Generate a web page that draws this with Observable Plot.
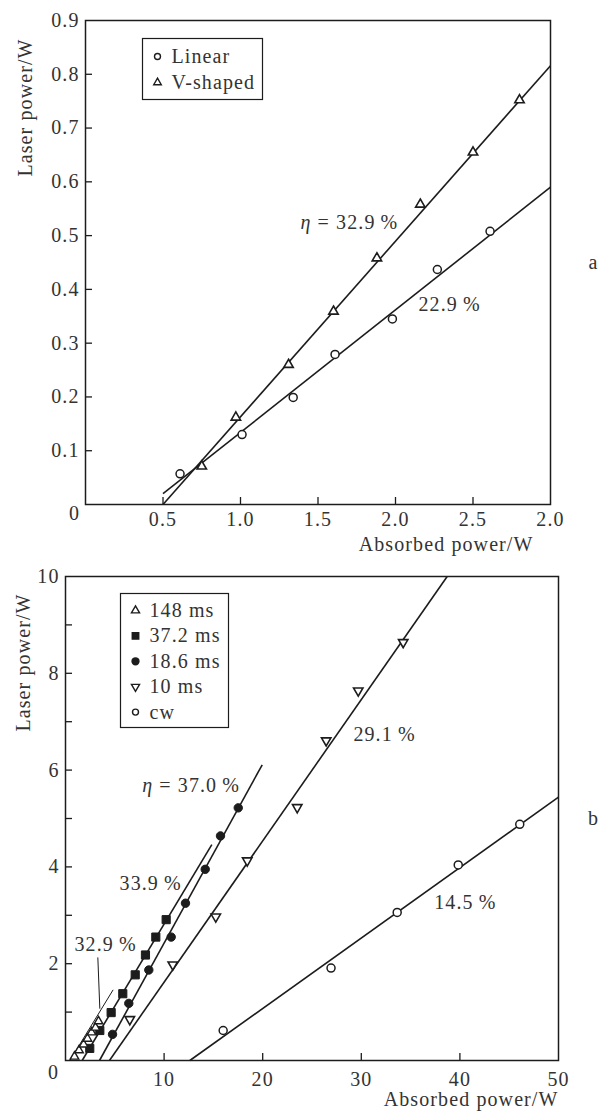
<!DOCTYPE html>
<html><head><meta charset="utf-8">
<script src="https://cdn.jsdelivr.net/npm/d3@7"></script>
<script src="https://cdn.jsdelivr.net/npm/@observablehq/plot@0.6"></script>
<style>
body{margin:0;background:#fff;}
#chart{width:599px;}
#chart svg{display:block;}
</style></head><body><div id="chart"></div>
<script>
// ---------- Panel a data ----------
const aLinearX = [0.61, 1.01, 1.34, 1.61, 1.98, 2.27, 2.61];
const aLinearY = [0.057, 0.130, 0.199, 0.279, 0.345, 0.437, 0.508];
const aVX = [0.75, 0.97, 1.31, 1.60, 1.88, 2.16, 2.50, 2.80];
const aVY = [0.071, 0.162, 0.260, 0.359, 0.458, 0.558, 0.655, 0.752];
// fitted lines: [x1, y1, x2, y2]
const aFits = [[0.5, 0.020, 3.0, 0.590], [0.5, 0.0, 3.0, 0.816]];
const aXTicks = [0.5, 1.0, 1.5, 2.0, 2.5, 3.0];
const aXTickLabels = ["0.5", "1.0", "1.5", "2.0", "2.5", "2.0"];
const aYTicks = [0.1, 0.2, 0.3, 0.4, 0.5, 0.6, 0.7, 0.8, 0.9];
const aYTickLabels = ["0.1", "0.2", "0.3", "0.4", "0.5", "0.6", "0.7", "0.8", "0.9"];
const aNoteText = ["η = 32.9\u2009%", "22.9\u2009%"];
const aNoteX = [1.387, 2.148];
const aNoteY = [0.524, 0.372];
const aLegend = ["Linear", "V-shaped"];

// ---------- Panel b data ----------
const b148X = [0.91, 1.37, 1.83, 2.23, 2.64, 3.04, 3.35];
const b148Y = [0.08, 0.21, 0.33, 0.45, 0.58, 0.68, 0.81];
const b372X = [2.46, 3.48, 4.63, 5.81, 7.07, 8.11, 9.16, 10.21];
const b372Y = [0.25, 0.62, 0.99, 1.38, 1.77, 2.18, 2.55, 2.91];
const b186X = [4.77, 6.42, 8.45, 10.72, 12.17, 14.17, 15.72, 17.52];
const b186Y = [0.54, 1.18, 1.87, 2.55, 3.25, 3.95, 4.64, 5.22];
const b10X = [6.52, 10.88, 15.24, 18.43, 23.5, 26.44, 29.69, 34.25];
const b10Y = [0.85, 1.98, 2.97, 4.13, 5.23, 6.61, 7.64, 8.64];
const bCwX = [15.99, 26.93, 33.64, 39.83, 46.07];
const bCwY = [0.62, 1.91, 3.06, 4.04, 4.88];
// fitted lines [x1, y1, x2, y2]
const bFits = [[1.69, 0, 14.84, 4.46], [3.45, 0, 19.95, 6.11], [4.46, 0, 38.71, 10], [12.61, 0, 50, 5.44]];
const bFitThin = [[0.45, 0, 4.83, 1.46], [3.28, 2.13, 3.48, 1.07]]; // 148 ms fit + leader line
const bXTicks = [10, 20, 30, 40, 50];
const bXTickLabels = ["10", "20", "30", "40", "50"];
const bYTicks = [1, 2, 3, 4, 5, 6, 7, 8, 9];
const bYLabelTicks = [2, 4, 6, 8, 10];
const bNoteText = ["η = 37.0\u2009%", "33.9\u2009%", "32.9\u2009%", "29.1\u2009%", "14.5\u2009%"];
const bNoteX = [7.78, 5.48, 0.91, 29.2, 37.4];
const bNoteY = [5.68, 3.66, 2.40, 6.74, 3.26];
const bLegend = ["148 ms", "37.2 ms", "18.6 ms", "10 ms", "cw"];

// ---------- helpers ----------
const FONT = "'Liberation Serif','Times New Roman',serif";
const INK = "#1c1c1c", TXT = "#333";
const pts = (xs, ys) => xs.map((x, i) => ({x, y: ys[i]}));
const segs = (arr) => arr.map(([x1, y1, x2, y2]) => ({x1, y1, x2, y2}));
const notes = (t, xs, ys) => t.map((s, i) => ({text: s, x: xs[i], y: ys[i]}));
const style = {fontFamily: FONT, fontSize: "20px", color: TXT, background: "white", letterSpacing: "1.1px"};

function legendMarks(entries, box, sym, spacing, y0) {
  const m = [Plot.frame({...box, fill: "white", stroke: INK, strokeWidth: 1.2})];
  entries.forEach((label, i) => {
    m.push(Plot.dot([label], {frameAnchor: "top-left", dx: box.insetLeft + 15, dy: y0 + i * spacing, ...sym[i]}));
    m.push(Plot.text([label], {frameAnchor: "top-left", dx: box.insetLeft + 29, dy: y0 + i * spacing, text: d => d, textAnchor: "start", lineAnchor: "middle", fill: TXT}));
  });
  return m;
}

// ---------- Panel a ----------
const plotA = Plot.plot({
  width: 599, height: 560, marginLeft: 85, marginRight: 49, marginTop: 20, marginBottom: 56,
  style,
  x: {domain: [0, 3], label: null},
  y: {domain: [0, 0.9], label: null},
  marks: [
    Plot.axisX({ticks: aXTicks.slice(0, -1), tickSize: -7, fill: "none", stroke: INK, strokeWidth: 1.3, label: null}),
    Plot.axisX({ticks: aXTicks, tickSize: 0, tickPadding: 7, stroke: "none", fill: TXT, tickFormat: d => aXTickLabels[aXTicks.indexOf(d)], label: null}),
    Plot.axisY({ticks: aYTicks.slice(0, -1), tickSize: -7, fill: "none", stroke: INK, strokeWidth: 1.3, label: null}),
    Plot.axisY({ticks: aYTicks, tickSize: 0, tickPadding: 6, stroke: "none", fill: TXT, tickFormat: d => aYTickLabels[aYTicks.indexOf(d)], label: null}),
    Plot.text(["0"], {frameAnchor: "bottom-left", dx: -11, dy: 15, textAnchor: "middle", text: d => d, fill: TXT}),
    Plot.link(segs(aFits), {x1: "x1", y1: "y1", x2: "x2", y2: "y2", stroke: INK, strokeWidth: 1.6}),
    Plot.dot(pts(aLinearX, aLinearY), {x: "x", y: "y", r: 4, symbol: "circle", fill: "white", stroke: INK, strokeWidth: 1.5}),
    Plot.dot(pts(aVX, aVY), {x: "x", y: "y", r: 3.5, symbol: "triangle", fill: "white", stroke: INK, strokeWidth: 1.6}),
    Plot.text(notes(aNoteText, aNoteX, aNoteY), {x: "x", y: "y", text: "text", textAnchor: "start", fill: TXT}),
    ...legendMarks(aLegend, {insetLeft: 57, insetTop: 18, insetRight: 288, insetBottom: 405},
      [{symbol: "circle", r: 3, fill: "white", stroke: INK, strokeWidth: 1.4},
       {symbol: "triangle", r: 2.8, fill: "white", stroke: INK, strokeWidth: 1.4}], 26, 36),
    Plot.frame({stroke: INK, strokeWidth: 1.5}),
    Plot.text(["Laser power/W"], {frameAnchor: "left", dx: -60, dy: -155, rotate: -90, textAnchor: "middle", text: d => d, fill: TXT}),
    Plot.text(["Absorbed power/W"], {frameAnchor: "bottom-right", dx: -17, dy: 46, textAnchor: "end", text: d => d, fill: TXT}),
    Plot.text(["a"], {frameAnchor: "right", dx: 43, textAnchor: "middle", text: d => d, fill: TXT})
  ]
});

// ---------- Panel b ----------
const plotB = Plot.plot({
  width: 599, height: 555, marginLeft: 65, marginRight: 41, marginTop: 16, marginBottom: 55,
  style,
  x: {domain: [0, 50], label: null},
  y: {domain: [0, 10], label: null},
  marks: [
    Plot.axisX({ticks: bXTicks.slice(0, -1), tickSize: -7, fill: "none", stroke: INK, strokeWidth: 1.3, label: null}),
    Plot.axisX({ticks: bXTicks, tickSize: 0, tickPadding: 11, stroke: "none", fill: TXT, tickFormat: d => bXTickLabels[bXTicks.indexOf(d)], label: null}),
    Plot.axisY({ticks: bYTicks, tickSize: -7, fill: "none", stroke: INK, strokeWidth: 1.3, label: null}),
    Plot.axisY({ticks: bYLabelTicks, tickSize: 0, tickPadding: 6, stroke: "none", fill: TXT, tickFormat: d => String(d), label: null}),
    Plot.text(["0"], {frameAnchor: "bottom-left", dx: -12, dy: 18, textAnchor: "middle", text: d => d, fill: TXT}),
    Plot.link(segs(bFits), {x1: "x1", y1: "y1", x2: "x2", y2: "y2", stroke: INK, strokeWidth: 1.6}),
    Plot.link(segs(bFitThin), {x1: "x1", y1: "y1", x2: "x2", y2: "y2", stroke: INK, strokeWidth: 1}),
    Plot.dot(pts(bCwX, bCwY), {x: "x", y: "y", r: 4, symbol: "circle", fill: "white", stroke: INK, strokeWidth: 1.5}),
    Plot.dot(pts(b10X, b10Y), {x: "x", y: "y", r: 3.5, symbol: "triangle", rotate: 180, fill: "white", stroke: INK, strokeWidth: 1.6}),
    Plot.dot(pts(b186X, b186Y), {x: "x", y: "y", r: 4.2, symbol: "circle", fill: INK, stroke: INK, strokeWidth: 1}),
    Plot.dot(pts(b372X, b372Y), {x: "x", y: "y", r: 4.6, symbol: "square", fill: INK, stroke: INK, strokeWidth: 1}),
    Plot.dot(pts(b148X, b148Y), {x: "x", y: "y", r: 3.2, symbol: "triangle", fill: "white", stroke: INK, strokeWidth: 1.4}),
    Plot.text(notes(bNoteText, bNoteX, bNoteY), {x: "x", y: "y", text: "text", textAnchor: "start", fill: TXT}),
    ...legendMarks(bLegend, {insetLeft: 55, insetTop: 17, insetRight: 330, insetBottom: 333},
      [{symbol: "triangle", r: 3, fill: "white", stroke: INK, strokeWidth: 1.4},
       {symbol: "square", r: 3.6, fill: INK, stroke: INK},
       {symbol: "circle", r: 3.4, fill: INK, stroke: INK},
       {symbol: "triangle", rotate: 180, r: 3, fill: "white", stroke: INK, strokeWidth: 1.4},
       {symbol: "circle", r: 3, fill: "white", stroke: INK, strokeWidth: 1.4}], 25.4, 34),
    Plot.frame({stroke: INK, strokeWidth: 1.5}),
    Plot.text(["Laser power/W"], {frameAnchor: "left", dx: -42, dy: -156, rotate: -90, textAnchor: "middle", text: d => d, fill: TXT}),
    Plot.text(["Absorbed power/W"], {frameAnchor: "bottom-right", dx: 0, dy: 45, textAnchor: "end", text: d => d, fill: TXT}),
    Plot.text(["b"], {frameAnchor: "right", dx: 35, textAnchor: "middle", text: d => d, fill: TXT})
  ]
});

function italicEta(svg) {
  const ns = "http://www.w3.org/2000/svg";
  svg.querySelectorAll("text").forEach(t => {
    const s = t.textContent;
    if (s.startsWith("η") && t.children.length === 0) {
      t.textContent = "";
      const a = document.createElementNS(ns, "tspan");
      a.setAttribute("font-style", "italic");
      a.textContent = "η";
      const b = document.createElementNS(ns, "tspan");
      b.textContent = s.slice(1);
      t.append(a, b);
    }
  });
}
italicEta(plotA); italicEta(plotB);
const chart = document.getElementById("chart");
chart.append(plotA, plotB);
</script></body></html>
